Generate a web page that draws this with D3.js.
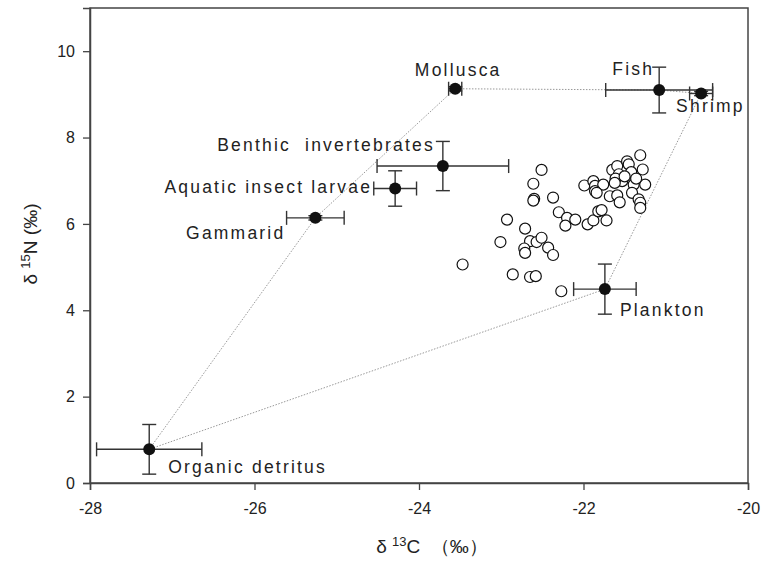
<!DOCTYPE html>
<html>
<head>
<meta charset="utf-8">
<script src="https://cdn.jsdelivr.net/npm/d3@7"></script>
<style>
    body { margin: 0; background: #fff; }
    svg text { font-family: "Liberation Sans", Arial, sans-serif; fill: #222; }
    .tick text { font-size: 16px; }
    .hull { fill: none; stroke: #999; stroke-width: 1; stroke-dasharray: 1.5,1.5; }
    .err { stroke: #333; stroke-width: 1.4; }
    .consumer { fill: #fff; stroke: #111; stroke-width: 1.2; }
    .source { fill: #111; }
    .label { font-size: 17.5px; letter-spacing: 2.2px; }
</style>
</head>
<body>
<div id="chart"></div>
<script>
// food sources (mean +- sd)
const sourceNames = ["Organic detritus", "Gammarid", "Aquatic insect larvae", "Benthic  invertebrates",
                     "Mollusca", "Fish", "Shrimp", "Plankton"];
const sourceC   = [-27.28, -25.26, -24.29, -23.71, -23.56, -21.08, -20.57, -21.74];
const sourceCsd = [0.64, 0.35, 0.26, 0.80, 0.08, 0.65, 0.14, 0.38];
const sourceN   = [0.78, 6.14, 6.82, 7.34, 9.13, 9.10, 9.02, 4.49];
const sourceNsd = [0.575, 0.05, 0.41, 0.57, 0.05, 0.53, 0.05, 0.58];

// consumers (open circles)
const consumerC = [-22.51, -22.61, -22.60, -22.61, -22.37, -22.93, -22.30, -22.20, -22.10, -22.22,
                   -22.71, -23.01, -22.65, -22.57, -22.51, -22.72, -22.71, -22.43, -22.37, -23.47,
                   -22.86, -22.65, -22.58, -22.27, -21.99, -21.88, -21.86, -21.76, -21.86, -21.84,
                   -21.68, -21.59, -21.56, -21.95, -21.88, -21.82, -21.78, -21.72, -21.65, -21.59,
                   -21.47, -21.45, -21.31, -21.42, -21.28, -21.53, -21.39, -21.25, -21.41, -21.33,
                   -21.31, -21.31, -21.57, -21.61, -21.50, -21.36, -21.62];
const consumerN = [7.25, 6.93, 6.58, 6.54, 6.61, 6.10, 6.27, 6.14, 6.10, 5.96,
                   5.89, 5.58, 5.60, 5.58, 5.68, 5.43, 5.33, 5.45, 5.28, 5.06,
                   4.83, 4.77, 4.79, 4.44, 6.89, 6.99, 6.88, 6.91, 6.76, 6.72,
                   6.64, 6.66, 6.50, 5.99, 6.08, 6.29, 6.32, 6.08, 7.25, 7.34,
                   7.45, 7.38, 7.59, 7.20, 7.26, 6.99, 6.91, 6.91, 6.72, 6.57,
                   6.49, 6.37, 7.15, 7.05, 7.10, 7.05, 6.95];

// polygon joining the sources
const hullOrder = [0, 1, 4, 5, 6, 7, 0];

const xTicks = [-28, -26, -24, -22, -20];
const yTicks = [0, 2, 4, 6, 8, 10];

// label placement relative to each source point: [dx, dy, anchor]
const labelOffsets = [[19, 24, "start"], [-30, 21, "end"], [-23, 4, "end"], [-8, -15, "end"],
                      [3, -13, "middle"], [-5, -15, "end"], [-25, 18, "start"], [15, 27, "start"]];

const W = 772, H = 561;
const margin = {top: 8, right: 24, bottom: 78, left: 90};
const width = W - margin.left - margin.right;
const height = H - margin.top - margin.bottom;

const x = d3.scaleLinear().domain([-28, -20]).range([0, width]);
const y = d3.scaleLinear().domain([0, 11]).range([height, 0]);

const svg = d3.select("#chart").append("svg")
    .attr("width", W)
    .attr("height", H);

const g = svg.append("g")
    .attr("transform", "translate(" + margin.left + "," + margin.top + ")");

// frame
g.append("rect")
    .attr("width", width).attr("height", height)
    .attr("fill", "none").attr("stroke", "#444").attr("stroke-width", 1.5);

const plainFormat = function(d) { return String(d); };
const xAxis = g.append("g")
    .attr("transform", "translate(0," + height + ")")
    .call(d3.axisBottom(x).tickValues(xTicks).tickSize(7).tickPadding(10).tickFormat(plainFormat));
const yAxis = g.append("g")
    .call(d3.axisLeft(y).tickValues(yTicks).tickSize(7).tickPadding(8).tickFormat(plainFormat));
[xAxis, yAxis].forEach(function(a) {
    a.select(".domain").attr("stroke", "#444").attr("stroke-width", 1.5);
    a.selectAll(".tick line").attr("stroke", "#444").attr("stroke-width", 1.3);
    a.selectAll(".tick text").attr("font-family", null).attr("font-size", null);
});
xAxis.selectAll(".tick text").attr("dy", "0.85em");

// hull
const hullLine = d3.line()
    .x(function(i) { return x(sourceC[i]); })
    .y(function(i) { return y(sourceN[i]); });
g.append("path").attr("class", "hull").attr("d", hullLine(hullOrder));

// consumers
g.selectAll("circle.consumer")
    .data(consumerC.map(function(c, i) { return [c, consumerN[i]]; }))
    .enter().append("circle")
    .attr("class", "consumer")
    .attr("r", 5.5)
    .attr("cx", function(d) { return x(d[0]); })
    .attr("cy", function(d) { return y(d[1]); });

// sources with error bars
const cap = 7;
sourceNames.forEach(function(name, i) {
    const cx = x(sourceC[i]), cy = y(sourceN[i]);
    const x0 = x(sourceC[i] - sourceCsd[i]), x1 = x(sourceC[i] + sourceCsd[i]);
    const y0 = y(sourceN[i] - sourceNsd[i]), y1 = y(sourceN[i] + sourceNsd[i]);
    const e = g.append("g").attr("class", "err");
    e.append("line").attr("x1", x0).attr("x2", x1).attr("y1", cy).attr("y2", cy);
    e.append("line").attr("x1", x0).attr("x2", x0).attr("y1", cy - cap).attr("y2", cy + cap);
    e.append("line").attr("x1", x1).attr("x2", x1).attr("y1", cy - cap).attr("y2", cy + cap);
    e.append("line").attr("x1", cx).attr("x2", cx).attr("y1", y0).attr("y2", y1);
    e.append("line").attr("x1", cx - cap).attr("x2", cx + cap).attr("y1", y0).attr("y2", y0);
    e.append("line").attr("x1", cx - cap).attr("x2", cx + cap).attr("y1", y1).attr("y2", y1);
    g.append("circle").attr("class", "source").attr("r", 6).attr("cx", cx).attr("cy", cy);

    const off = labelOffsets[i];
    g.append("text").attr("class", "label")
        .attr("x", cx + off[0]).attr("y", cy + off[1])
        .attr("text-anchor", off[2])
        .style("white-space", "pre")
        .text(name);
});

// axis titles
const xt = svg.append("text")
    .attr("x", 432).attr("y", 553)
    .attr("text-anchor", "middle").attr("font-size", "19px");
xt.append("tspan").text("δ ");
xt.append("tspan").attr("font-size", "13px").attr("dy", -7).text("13");
xt.append("tspan").attr("dy", 7).style("white-space", "pre").text("C  （‰）");

const yt = svg.append("text")
    .attr("transform", "translate(37,244) rotate(-90)")
    .attr("text-anchor", "middle").attr("font-size", "19px");
yt.append("tspan").text("δ ");
yt.append("tspan").attr("font-size", "13px").attr("dy", -7).text("15");
yt.append("tspan").attr("dy", 7).text("N (‰)");
</script>
</body>
</html>
